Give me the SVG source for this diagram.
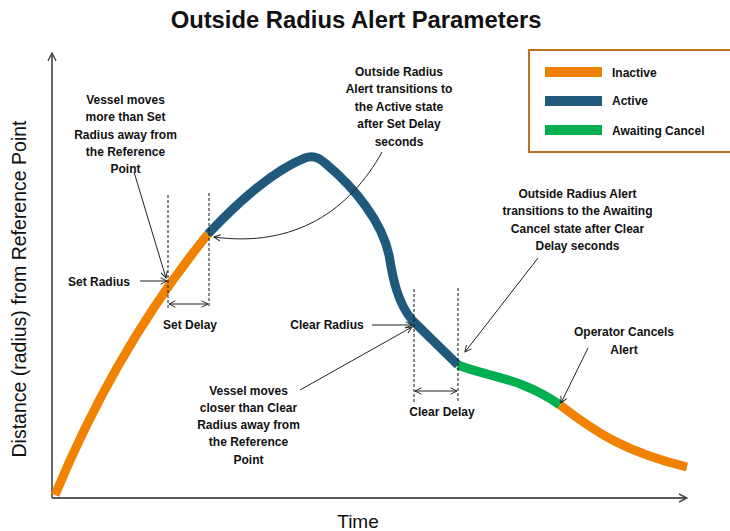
<svg xmlns="http://www.w3.org/2000/svg" width="730" height="531" viewBox="0 0 730 531">
<defs>
<style>
.t{font-family:"Liberation Sans",Arial,sans-serif;font-weight:bold;font-size:12px;fill:#111;text-anchor:middle}
.lg{font-family:"Liberation Sans",Arial,sans-serif;font-weight:bold;font-size:12px;fill:#111}
.ax{font-family:"Liberation Sans",Arial,sans-serif;font-size:19.5px;fill:#111;text-anchor:middle}
.ln{stroke:#222;stroke-width:1;fill:none}
.dash{stroke:#111;stroke-width:1;stroke-dasharray:3,2;fill:none}
.axis{stroke:#595959;stroke-width:1.8;fill:none}
.seg{fill:none;stroke-width:9;stroke-linecap:butt;stroke-linejoin:round}
.or{stroke:#f08200}
.bl{stroke:#1f5a7c}
.gr{stroke:#00b050}
</style>
<marker id="arr" viewBox="0 0 10 10" refX="9" refY="5" markerWidth="8" markerHeight="8" markerUnits="userSpaceOnUse" orient="auto-start-reverse">
<path d="M1,1 L9,5 L1,9" fill="none" stroke="#222" stroke-width="1.2"/>
</marker>
<marker id="axarr" viewBox="0 0 10 10" refX="9" refY="5" markerWidth="10" markerHeight="10" markerUnits="userSpaceOnUse" orient="auto">
<path d="M1,1 L9,5 L1,9" fill="none" stroke="#444" stroke-width="1.4"/>
</marker>
</defs>
<rect width="730" height="531" fill="#fff"/>
<text x="356" y="28" style="font-family:'Liberation Sans',Arial,sans-serif;font-weight:bold;font-size:23.8px;fill:#111;text-anchor:middle">Outside Radius Alert Parameters</text>

<g id="axes">
<path class="axis" d="M52,498 L52,53" marker-end="url(#axarr)"/>
<path class="axis" d="M52,498 L687,498" marker-end="url(#axarr)"/>
<text class="ax" transform="translate(26,289) rotate(-90)">Distance (radius) from Reference Point</text>
<text class="ax" x="358" y="528" style="font-size:19px">Time</text>
</g>

<g id="curve">
<path class="seg or" d="M55,495 Q117,346 208,234"/>
<path class="seg bl" d="M208,234 C240,200 275,170 305,158 Q315,154 325,163 C355,188 382,222 389,255 C393,280 398,303 412,320 L458,365"/>
<path class="seg gr" d="M458,365 C488,377 520,377 560,405"/>
<path class="seg or" d="M560,405 C595,432 625,452 687,467"/>
</g>

<g id="legend">
<rect x="529" y="50" width="210" height="102" fill="none" stroke="#c0701f" stroke-width="2"/>
<rect x="545" y="67" width="57" height="10" fill="#f08200"/>
<rect x="545" y="96" width="57" height="10" fill="#1f5a7c"/>
<rect x="545" y="125" width="57" height="10" fill="#00b050"/>
<text class="lg" x="612" y="76.5">Inactive</text>
<text class="lg" x="612" y="105">Active</text>
<text class="lg" x="612" y="134.5">Awaiting Cancel</text>
</g>

<g id="guides">
<path class="dash" d="M168,195 L168,308"/>
<path class="dash" d="M209,193 L209,308"/>
<path class="dash" d="M414,289 L414,402"/>
<path class="dash" d="M458,288 L458,402"/>
</g>

<g id="label-set-move">
<text class="t" x="125.5" y="104">Vessel moves</text>
<text class="t" x="125.5" y="121.25">more than Set</text>
<text class="t" x="125.5" y="138.5">Radius away from</text>
<text class="t" x="125.5" y="155.75">the Reference</text>
<text class="t" x="125.5" y="173">Point</text>
</g>
<g id="label-active">
<text class="t" x="399" y="76">Outside Radius</text>
<text class="t" x="399" y="93.4">Alert transitions to</text>
<text class="t" x="399" y="110.8">the Active state</text>
<text class="t" x="399" y="128.2">after Set Delay</text>
<text class="t" x="399" y="145.6">seconds</text>
</g>
<g id="label-awaiting">
<text class="t" x="577.5" y="197.5">Outside Radius Alert</text>
<text class="t" x="577.5" y="215">transitions to the Awaiting</text>
<text class="t" x="577.5" y="232.5">Cancel state after Clear</text>
<text class="t" x="577.5" y="250">Delay seconds</text>
</g>
<g id="label-operator">
<text class="t" x="624" y="336">Operator Cancels</text>
<text class="t" x="624" y="353.5">Alert</text>
</g>
<g id="label-clear-move">
<text class="t" x="248.5" y="394.5">Vessel moves</text>
<text class="t" x="248.5" y="411.8">closer than Clear</text>
<text class="t" x="248.5" y="429">Radius away from</text>
<text class="t" x="248.5" y="446.2">the Reference</text>
<text class="t" x="248.5" y="463.5">Point</text>
</g>
<g id="label-set-radius"><text class="t" x="99" y="285.5">Set Radius</text></g>
<g id="label-set-delay"><text class="t" x="190" y="329">Set Delay</text></g>
<g id="label-clear-radius"><text class="t" x="327" y="328.5">Clear Radius</text></g>
<g id="label-clear-delay"><text class="t" x="442" y="416">Clear Delay</text></g>

<g id="connectors">
<path class="ln" d="M140,281 L167,281" marker-end="url(#arr)"/>
<path class="ln" d="M372,325 L412,325" marker-end="url(#arr)"/>
<path class="ln" d="M134,172 L166,278" marker-end="url(#arr)"/>
<path class="ln" d="M300,390 L412,327" marker-end="url(#arr)"/>
<path class="ln" d="M382,152 C350,210 295,248 214,237" marker-end="url(#arr)"/>
<path class="ln" d="M538,258 L465,352" marker-end="url(#arr)"/>
<path class="ln" d="M588,348 L561,403" marker-end="url(#arr)"/>
<path class="ln" d="M169,304 L208,304" marker-start="url(#arr)" marker-end="url(#arr)"/>
<path class="ln" d="M415,391 L457,391" marker-start="url(#arr)" marker-end="url(#arr)"/>
</g>
</svg>
